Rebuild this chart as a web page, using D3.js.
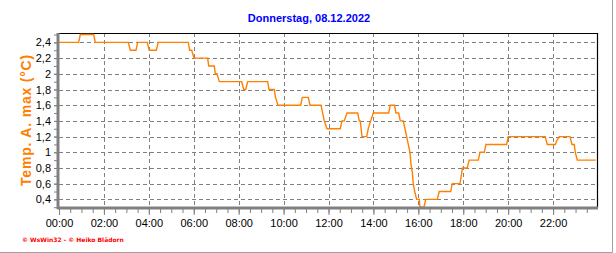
<!DOCTYPE html>
<meta charset="utf-8">
<style>
  body { margin: 0; background: #fff; }
  .tick text { font-family: "Liberation Sans", Arial, sans-serif; font-size: 11px; fill: #000; }
  .grid line { stroke: #808080; stroke-dasharray: 4,3; }
</style>
<script src="https://d3js.org/d3.v7.min.js"></script>
<div id="chart"></div>
<script>
// hour of day, temperature max (°C)
const hours = [0, 0.877, 0.948, 1.545, 1.616, 3.085, 3.175, 3.428, 3.504, 3.931, 4.02, 4.332, 4.421,
  5.757, 5.819, 5.908, 6.01, 6.621, 6.665, 6.915, 6.959, 7.035, 7.137, 8.135, 8.224, 8.313, 8.402,
  9.292, 9.35, 9.586, 9.64, 9.751, 10.761, 10.833, 11.1, 11.175, 11.665, 11.741, 11.812, 11.932,
  12.524, 12.6, 12.702, 12.823, 13.299, 13.37, 13.415, 13.491, 13.7, 13.771, 13.878, 13.994,
  14.679, 14.751, 14.938, 15.004, 15.125, 15.196, 15.33, 15.405, 15.481, 15.552, 15.628, 15.672,
  15.73, 15.775, 15.837, 15.926, 16.042, 16.073, 16.251, 16.327, 16.843, 16.932, 17.44, 17.511,
  17.854, 17.912, 17.965, 18.179, 18.264, 18.669, 18.745, 18.936, 19.012, 19.933, 20.004, 21.652,
  21.741, 22.097, 22.17, 22.275, 22.752, 22.841, 22.943, 22.988, 23.077, 23.896];
const temps = [2.4, 2.4, 2.5, 2.5, 2.4, 2.4, 2.3, 2.3, 2.4, 2.4, 2.3, 2.3, 2.4,
  2.4, 2.3, 2.3, 2.2, 2.2, 2.1, 2.1, 2.0, 2.0, 1.9, 1.9, 1.8, 1.8, 1.9,
  1.9, 1.8, 1.8, 1.7, 1.6, 1.6, 1.7, 1.7, 1.6, 1.6, 1.5, 1.4, 1.3,
  1.3, 1.4, 1.4, 1.5, 1.5, 1.4, 1.4, 1.2, 1.2, 1.3, 1.4, 1.5,
  1.5, 1.6, 1.6, 1.5, 1.5, 1.4, 1.4, 1.3, 1.2, 1.1, 1.0, 0.85,
  0.75, 0.6, 0.5, 0.4, 0.4, 0.3, 0.3, 0.4, 0.4, 0.5, 0.5, 0.6,
  0.6, 0.7, 0.8, 0.8, 0.9, 0.9, 1.0, 1.0, 1.1, 1.1, 1.2, 1.2,
  1.1, 1.1, 1.15, 1.2, 1.2, 1.1, 1.1, 1.0, 0.9, 0.9];
const xTicks = [0, 2, 4, 6, 8, 10, 12, 14, 16, 18, 20, 22];
const yTicks = [0.4, 0.6, 0.8, 1.0, 1.2, 1.4, 1.6, 1.8, 2.0, 2.2, 2.4];
const title = "Donnerstag, 08.12.2022";
const yLabel = "Temp. A. max (°C)";

const W = 616, H = 253;
const L = 59, R = 598, T = 33, B = 208;

const svg = d3.select("#chart").append("svg")
    .attr("width", W).attr("height", H);

const x = d3.scaleLinear().domain([0, 24]).range([L, R]);
const y = d3.scaleLinear().domain([0.29, 2.52]).range([B, T]);

// outer frame (right + bottom)
svg.append("line").attr("x1", 612.5).attr("x2", 612.5).attr("y1", 0).attr("y2", 252.5)
    .attr("stroke", "#a0a0a0");
svg.append("line").attr("x1", 0).attr("x2", 612.5).attr("y1", 252.5).attr("y2", 252.5)
    .attr("stroke", "#a0a0a0");

// grid
const grid = svg.append("g").attr("class", "grid");
grid.selectAll(".gx").data(xTicks.slice(1)).join("line")
    .attr("x1", d => Math.round(x(d)) + 0.5).attr("x2", d => Math.round(x(d)) + 0.5)
    .attr("y1", T).attr("y2", B);
grid.selectAll(".gy").data(yTicks).join("line")
    .attr("x1", L).attr("x2", R)
    .attr("y1", d => Math.round(y(d)) + 0.5).attr("y2", d => Math.round(y(d)) + 0.5);

// top and right border
svg.append("path")
    .attr("d", `M${L},${T + 0.5}H${R - 0.5}V${B}`)
    .attr("fill", "none").attr("stroke", "#000").attr("stroke-width", 1.2);

// data line
const pts = hours.map((h, i) => [h, temps[i]]);
svg.append("path")
    .datum(pts)
    .attr("d", d3.line().x(d => x(d[0])).y(d => y(d[1])))
    .attr("fill", "none")
    .attr("stroke", "#ff8000")
    .attr("stroke-width", 1.4);

// x axis
const fmtHour = h => String(h).padStart(2, "0") + ":00";
const xMinor = d3.range(0, 24, 0.5);
svg.append("g").attr("transform", `translate(0,${B + 1})`)
    .call(d3.axisBottom(x).tickValues(xMinor).tickSize(4).tickFormat(""))
    .call(g => g.select(".domain").remove())
    .call(g => g.selectAll(".tick line").attr("stroke", "#808080"));
svg.append("g").attr("transform", `translate(0,${B + 1})`)
    .call(d3.axisBottom(x).tickValues(xTicks).tickSize(6).tickPadding(4).tickFormat(fmtHour))
    .call(g => g.select(".domain").remove())
    .call(g => g.selectAll(".tick line").attr("stroke", "#808080"));
svg.append("line").attr("x1", L - 2).attr("x2", R).attr("y1", B).attr("y2", B)
    .attr("stroke", "#808080").attr("stroke-width", 3);

// y axis
const fmtY = d => d3.format("~g")(d).replace(".", ",");
svg.append("g").attr("transform", `translate(${L - 2},0)`)
    .call(d3.axisLeft(y).tickValues(d3.range(0.3, 2.51, 0.1)).tickSize(3).tickFormat(""))
    .call(g => g.select(".domain").remove())
    .call(g => g.selectAll(".tick line").attr("stroke", "#808080"));
svg.append("g").attr("transform", `translate(${L - 2},0)`)
    .call(d3.axisLeft(y).tickValues(yTicks).tickSize(3).tickPadding(3).tickFormat(fmtY))
    .call(g => g.select(".domain").remove())
    .call(g => g.selectAll(".tick line").attr("stroke", "#808080"));
svg.append("line").attr("x1", L - 1).attr("x2", L - 1).attr("y1", T).attr("y2", B + 1)
    .attr("stroke", "#808080").attr("stroke-width", 3);

// title
svg.append("text")
    .attr("x", 309).attr("y", 22)
    .attr("text-anchor", "middle")
    .style("font-family", "'Liberation Sans', Arial, sans-serif")
    .style("font-weight", "bold")
    .style("font-size", "11px")
    .attr("fill", "#0000ff")
    .text(title);

// y label
svg.append("text")
    .attr("transform", `translate(31,120) rotate(-90)`)
    .attr("text-anchor", "middle")
    .style("font-family", "'Liberation Sans', Arial, sans-serif")
    .style("font-weight", "bold")
    .style("font-size", "14px")
    .style("letter-spacing", "0.8px")
    .attr("fill", "#ff8000")
    .text(yLabel);

// footer
svg.append("text")
    .attr("x", 22).attr("y", 242)
    .style("font-family", "'DejaVu Sans', sans-serif")
    .style("font-weight", "bold")
    .style("font-size", "6px")
    .attr("fill", "#ff0000")
    .text("© WsWin32 - © Heiko Blädorn");
</script>
